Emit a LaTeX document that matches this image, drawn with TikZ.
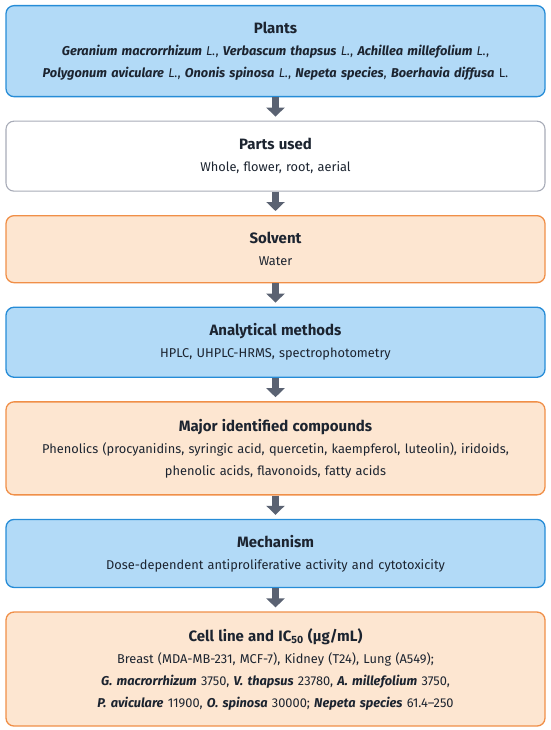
\documentclass[tikz,border=0pt]{standalone}
\usepackage{fontspec}
\setmainfont{Fira Sans}
\usetikzlibrary{positioning,arrows.meta}
\definecolor{flowblue}{RGB}{178,218,247}
\definecolor{flowbluedk}{RGB}{38,140,215}
\definecolor{flowpeach}{RGB}{253,230,209}
\definecolor{floworange}{RGB}{240,143,72}
\definecolor{flowgray}{RGB}{168,172,184}
\definecolor{arrowslate}{RGB}{90,98,114}
\definecolor{ink}{RGB}{28,36,48}

\newcommand{\boxhead}[1]{{\fontsize{15}{22}\selectfont\bfseries #1}}
\newcommand{\spp}[1]{{\bfseries\itshape #1}}

\begin{document}
\begin{tikzpicture}[x=1pt, y=1pt,
                    stage/.style={rounded corners=8pt, line width=1.3pt,
                                  text width=525pt, align=center, inner xsep=7pt,
                                  inner ysep=2pt, text=ink,
                                  font=\fontsize{12.8}{22}\selectfont},
                    bluestage/.style={stage, fill=flowblue, draw=flowbluedk},
                    peachstage/.style={stage, fill=flowpeach, draw=floworange},
                    plainstage/.style={stage, fill=white, draw=flowgray, line width=1.1pt},
                    flow/.style={draw=arrowslate, line width=6.5pt, shorten >=4pt,
                                 -{Triangle[width=18pt,length=9pt]}},
                    node distance=23.3pt]
  \useasboundingbox (0,0) rectangle (550,-730);

  % the seven stages, top to bottom
  \node[bluestage, anchor=north, minimum height=91pt] (plants) at (275.5,-5)
    {\boxhead{Plants}\\
     \spp{Geranium macrorrhizum} \textit{L.}, \spp{Verbascum thapsus} \textit{L.}, \spp{Achillea millefolium} \textit{L.},\\
     \spp{Polygonum aviculare} \textit{L.}, \spp{Ononis spinosa} \textit{L.}, \spp{Nepeta species}, \spp{Boerhavia diffusa} L.};
  \node[plainstage, below=of plants, minimum height=70pt] (parts)
    {\boxhead{Parts used}\\ Whole, flower, root, aerial};
  \node[peachstage, below=of parts, minimum height=67pt] (solvent)
    {\boxhead{Solvent}\\ Water};
  \node[bluestage, below=of solvent, minimum height=70pt] (methods)
    {\boxhead{Analytical methods}\\ HPLC, UHPLC-HRMS, spectrophotometry};
  \node[peachstage, below=of methods, minimum height=93pt] (compounds)
    {\boxhead{Major identified compounds}\\
     Phenolics (procyanidins, syringic acid, quercetin, kaempferol, luteolin), iridoids,\\
     phenolic acids, flavonoids, fatty acids};
  \node[bluestage, below=of compounds, minimum height=68pt] (mechanism)
    {\boxhead{Mechanism}\\ Dose-dependent antiproliferative activity and cytotoxicity};
  \node[peachstage, below=of mechanism, minimum height=114pt] (cells)
    {\boxhead{Cell line and IC\textsubscript{50} (µg/mL)}\\
     Breast (MDA-MB-231, MCF-7), Kidney (T24), Lung (A549);\\
     \spp{G.~macrorrhizum} 3750, \spp{V.~thapsus} 23780, \spp{A.~millefolium} 3750,\\
     \spp{P.~aviculare} 11900, \spp{O.~spinosa} 30000; \spp{Nepeta species} 61.4–250};

  \draw[flow] (plants) -- (parts);
  \draw[flow] (parts) -- (solvent);
  \draw[flow] (solvent) -- (methods);
  \draw[flow] (methods) -- (compounds);
  \draw[flow] (compounds) -- (mechanism);
  \draw[flow] (mechanism) -- (cells);
\end{tikzpicture}
\end{document}
